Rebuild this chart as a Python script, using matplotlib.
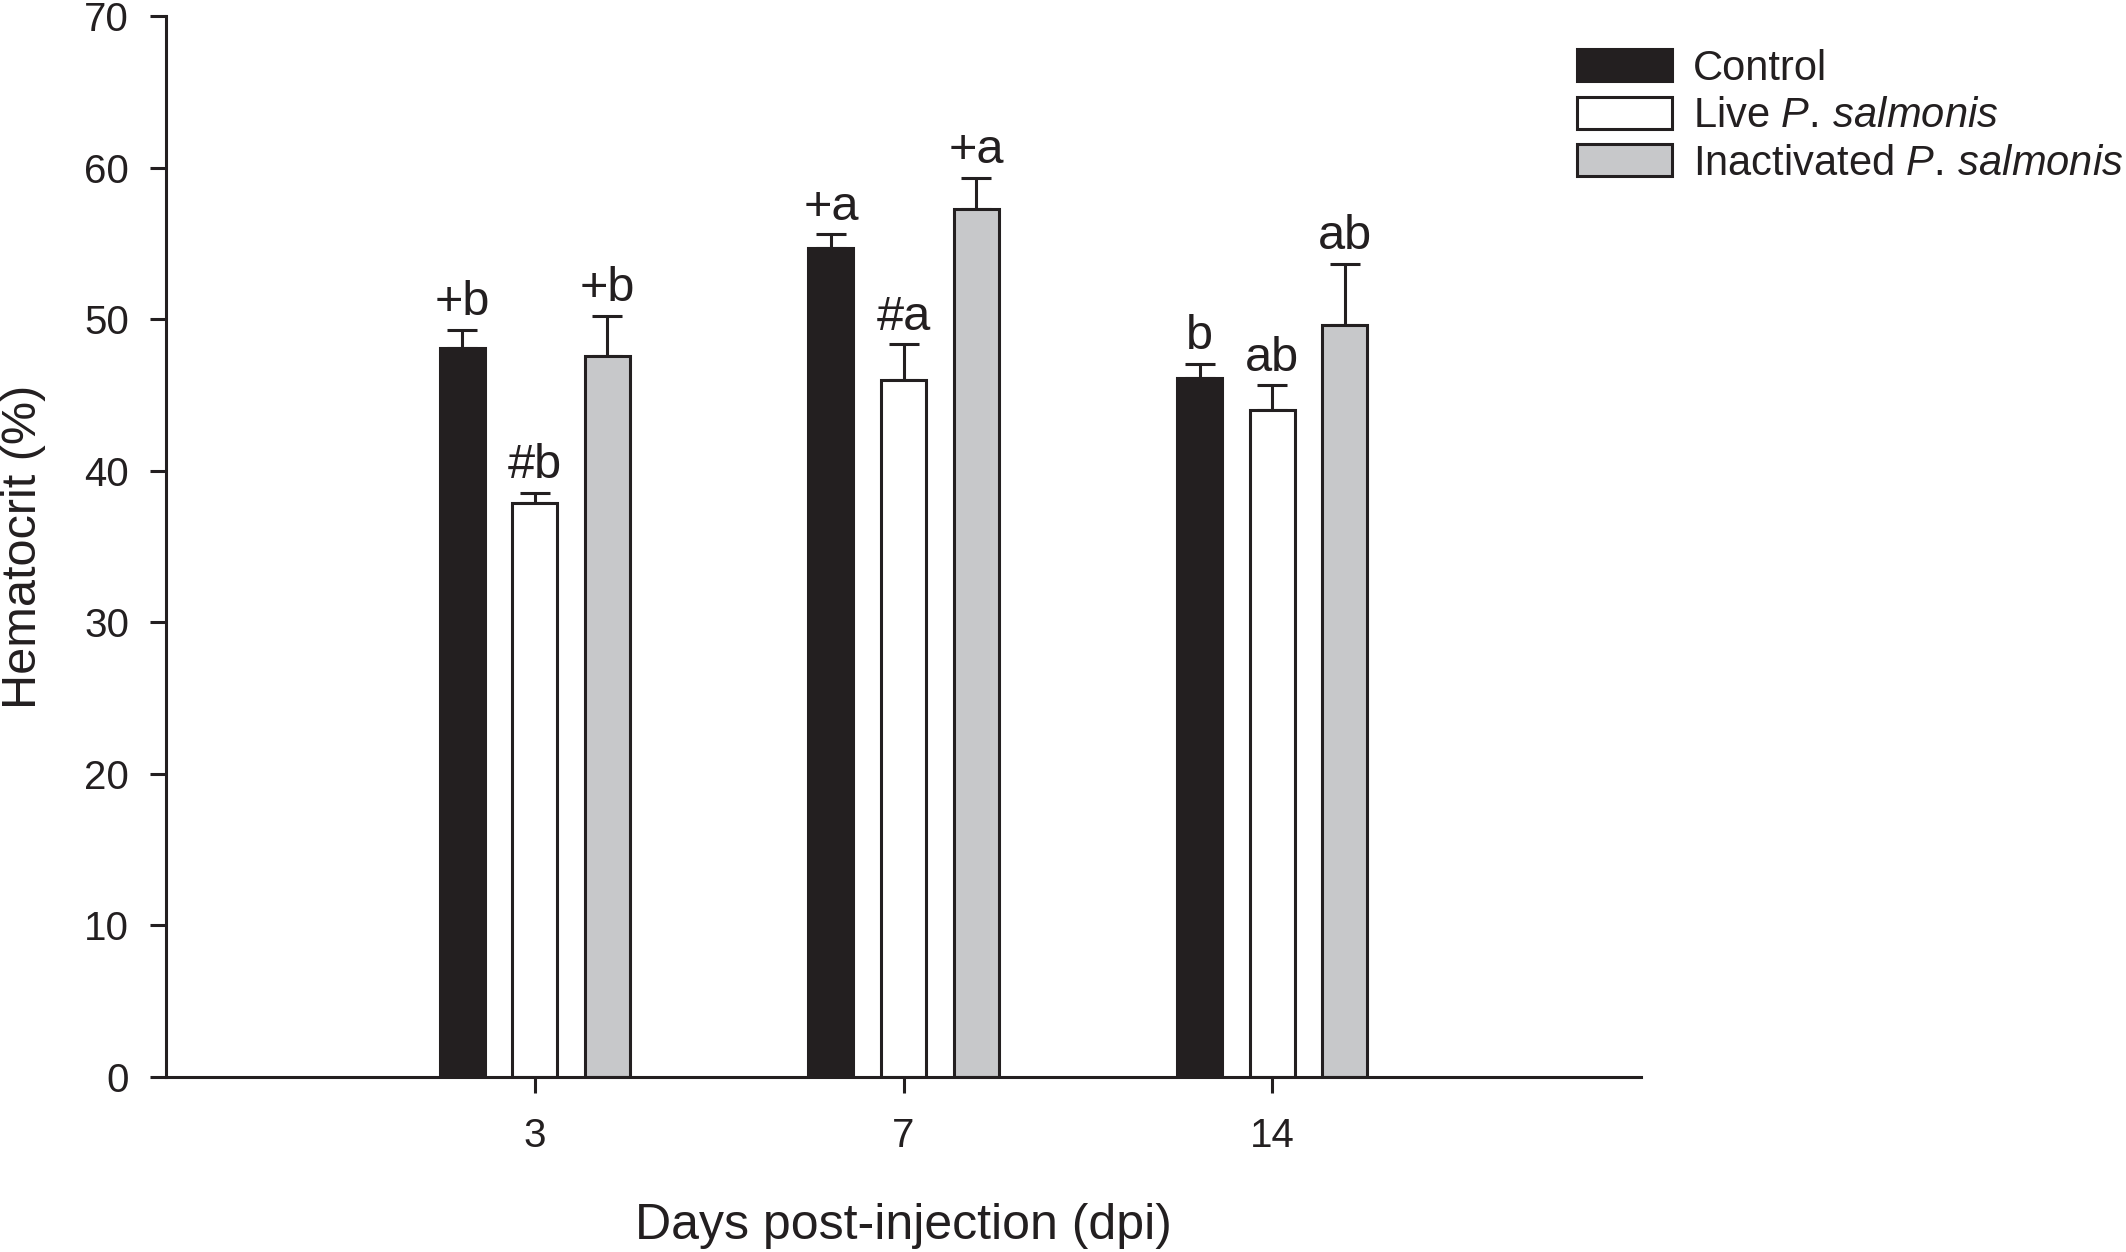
import matplotlib
matplotlib.use("Agg")
import matplotlib.pyplot as plt
import numpy as np

plt.rcParams['font.family'] = ['Liberation Sans', 'DejaVu Sans']
plt.rcParams['mathtext.fontset'] = 'custom'
plt.rcParams['mathtext.rm'] = 'Liberation Sans'
plt.rcParams['mathtext.it'] = 'Liberation Sans:italic'

days = ['3', '7', '14']
series = ['Control', 'Live $\\it{P.\\,salmonis}$', 'Inactivated $\\it{P.\\,salmonis}$']
control = [48.1, 54.7, 46.1]
control_err = [1.2, 0.9, 0.95]
live = [37.9, 46.0, 44.0]
live_err = [0.66, 2.35, 1.63]
inact = [47.6, 57.3, 49.6]
inact_err = [2.64, 2.02, 4.05]
control_lbl = ['+b', '+a', 'b']
live_lbl = ['#b', '#a', 'ab']
inact_lbl = ['+b', '+a', 'ab']

colors = ['#231f20', '#ffffff', '#c7c8ca']
edge = '#231f20'

fig = plt.figure(figsize=(21.26, 12.52), dpi=100)
ax = fig.add_axes([0.0781, 0.1398, 0.6938, 0.8474])

x = np.arange(len(days))
width = 0.122
offs = [-0.197, 0.0, 0.197]
data = [(control, control_err, control_lbl), (live, live_err, live_lbl), (inact, inact_err, inact_lbl)]
lw = 2.2
for i, (vals, errs, lbls) in enumerate(data):
    ax.bar(x + offs[i], vals, width, color=colors[i], edgecolor=edge, linewidth=lw,
           label=series[i], zorder=2)
    ax.errorbar(x + offs[i], vals, yerr=[np.zeros(len(vals)), errs], fmt='none',
                ecolor=edge, elinewidth=lw, capsize=11, capthick=lw, zorder=1)
    for xi, v, e, t in zip(x + offs[i], vals, errs, lbls):
        ax.text(xi, v + e + 0.3, t, ha='center', va='bottom', fontsize=35, color=edge)

ax.set_xlim(-1, 3)
ax.set_ylim(0, 70)
ax.set_yticks(range(0, 71, 10))
ax.set_xticks(x)
ax.set_xticklabels(days)
for s in ['top', 'right']:
    ax.spines[s].set_visible(False)
for s in ['left', 'bottom']:
    ax.spines[s].set_linewidth(2.2)
    ax.spines[s].set_color(edge)
ax.tick_params(axis='both', direction='out', length=11.5, width=2.2, colors=edge,
               labelsize=29, labelcolor=edge)
ax.tick_params(axis='y', pad=15)
ax.tick_params(axis='x', pad=17)

ax.set_xlabel('Days post-injection (dpi)', fontsize=36, color=edge)
ax.set_ylabel('Hematocrit (%)', fontsize=35, color=edge)
ax.xaxis.set_label_coords(0.5, -0.1405)
ax.xaxis.label.set_va('center')
ax.yaxis.set_label_coords(-0.0963, 0.5)
ax.yaxis.label.set_va('center')

leg = fig.legend(loc='upper left', bbox_to_anchor=(0.7417, 0.961), frameon=False,
                 fontsize=30, handlelength=2.28, handleheight=0.8, handletextpad=0.5,
                 labelspacing=0.18, borderpad=0, borderaxespad=0)
for t in leg.get_texts():
    t.set_color(edge)

fig.savefig('out.png', dpi=100)
